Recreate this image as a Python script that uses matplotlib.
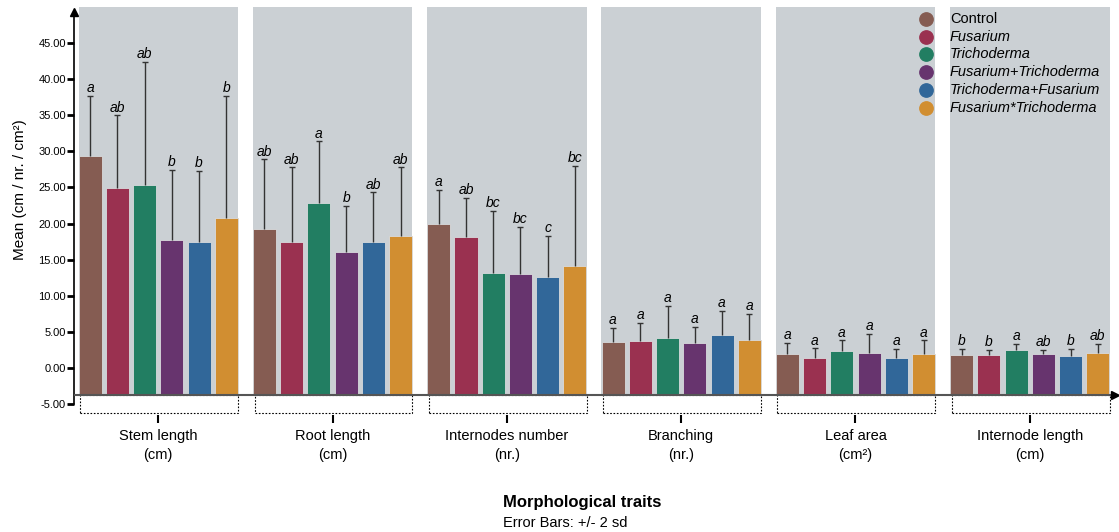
import matplotlib
matplotlib.use('Agg')
import matplotlib.pyplot as plt
from matplotlib.patches import Rectangle
from matplotlib.lines import Line2D
import numpy as np

plt.rcParams['font.family'] = ['Liberation Sans', 'DejaVu Sans']

traits = ['Stem length\n(cm)', 'Root length\n(cm)', 'Internodes number\n(nr.)',
          'Branching\n(nr.)', 'Leaf area\n(cm²)', 'Internode length\n(cm)']
treatments = ['Control', 'Fusarium', 'Trichoderma', 'Fusarium+Trichoderma',
              'Trichoderma+Fusarium', 'Fusarium*Trichoderma']
colors = ['#855C52', '#9A3150', '#227E62', '#67346E', '#316799', '#D18E31']

# mean per trait (rows) and treatment (columns)
means = [
    [29.3, 24.9, 25.3, 17.7, 17.5, 20.8],
    [19.2, 17.4, 22.9, 16.1, 17.4, 18.3],
    [19.9, 18.1, 13.1, 13.0, 12.6, 14.1],
    [3.6, 3.7, 4.2, 3.5, 4.5, 3.8],
    [1.9, 1.4, 2.4, 2.1, 1.3, 1.9],
    [1.8, 1.8, 2.5, 1.9, 1.7, 2.0],
]
# upper error (+2 sd)
errors = [
    [8.4, 10.1, 17.1, 9.7, 9.8, 16.9],
    [9.7, 10.4, 8.5, 6.3, 6.9, 9.5],
    [4.8, 5.5, 8.7, 6.5, 5.7, 13.9],
    [1.9, 2.5, 4.4, 2.2, 3.4, 3.7],
    [1.6, 1.3, 1.4, 2.6, 1.3, 1.9],
    [0.8, 0.7, 0.8, 0.6, 0.9, 1.3],
]
letters = [
    ['a', 'ab', 'ab', 'b', 'b', 'b'],
    ['ab', 'ab', 'a', 'b', 'ab', 'ab'],
    ['a', 'ab', 'bc', 'bc', 'c', 'bc'],
    ['a', 'a', 'a', 'a', 'a', 'a'],
    ['a', 'a', 'a', 'a', 'a', 'a'],
    ['b', 'b', 'a', 'ab', 'b', 'ab'],
]

W, H = 1119, 532
fig = plt.figure(figsize=(W / 100, H / 100), dpi=100)
ax = fig.add_axes([74.3 / W, 1 - 415 / H, (1115 - 74.3) / W, 408 / H])

base = -3.75
panel_half = 0.4575
bar_pitch = 0.1563
bar_w = 0.132
panel_color = '#CBD0D4'

for i in range(len(traits)):
    ax.add_patch(Rectangle((i - panel_half, base), 2 * panel_half, 60, color=panel_color,
                           lw=0, zorder=0))
    ax.add_patch(Rectangle((i - panel_half + 0.01, -6.25), 2 * panel_half - 0.01, 6.25 + base,
                           fill=False, ec='black', lw=0.8, ls=(0, (1.5, 1.5)), zorder=1))
    xs = i + (np.arange(6) - 2.5) * bar_pitch
    m = np.array(means[i])
    e = np.array(errors[i])
    ax.bar(xs, m - base, bottom=base, width=bar_w, color=colors,
           edgecolor='#d9dbdd', linewidth=0.6, zorder=2)
    ax.vlines(xs, m, m + e, color='#333333', lw=1, zorder=3)
    ax.plot(xs, m + e, ls='none', marker='_', markersize=4, mew=1,
            color='#333333', zorder=3)
    for x, top, lt in zip(xs, m + e, letters[i]):
        ax.text(x, top + 0.1, lt, ha='center', va='bottom', style='italic',
                fontsize=10, zorder=4)

ax.set_xlim(-0.4817, 5.489)
ax.set_ylim(-6.53, 50.0)

for s in ['top', 'right', 'bottom']:
    ax.spines[s].set_visible(False)
ax.spines['left'].set_bounds(-5, 49.3)
ax.spines['left'].set_linewidth(1.2)
ax.plot([0], [49.3], marker='^', color='black', markersize=6,
        transform=ax.get_yaxis_transform(), clip_on=False)

ax.axhline(base, color='#555555', lw=1.5, zorder=5)
ax.plot([1.0], [base], marker='>', color='black', markersize=6,
        transform=ax.get_yaxis_transform(), clip_on=False, zorder=6)

yt = np.arange(-5, 50, 5)
ax.set_yticks(yt)
ax.set_yticklabels([f'{v:.2f}' for v in yt], fontsize=8)
ax.tick_params(axis='y', length=5, width=2, pad=1)

ax.set_xticks(range(len(traits)))
ax.set_xticklabels(traits, fontsize=10.5, linespacing=1.45)
ax.tick_params(axis='x', length=6, width=1.5, pad=4)

fig.text(20 / W, 1 - 190 / H, 'Mean (cm / nr. / cm²)', rotation=90,
         ha='center', va='center', fontsize=11)
fig.text(503 / W, 1 - 502 / H, 'Morphological traits', fontweight='bold',
         ha='left', va='center', fontsize=12)
fig.text(503 / W, 1 - 523 / H, 'Error Bars: +/- 2 sd', ha='left', va='center',
         fontsize=10.5)

# legend
for k, (name, c) in enumerate(zip(treatments, colors)):
    y = 1 - (19 + k * 17.7) / H
    fig.add_artist(Line2D([925.7 / W], [y], marker='o', markersize=9.6, color=c,
                          transform=fig.transFigure, lw=0))
    fig.text(950 / W, y, name, ha='left', va='center', fontsize=10.5,
             style='normal' if k == 0 else 'italic')

fig.savefig('out.png', dpi=100)
